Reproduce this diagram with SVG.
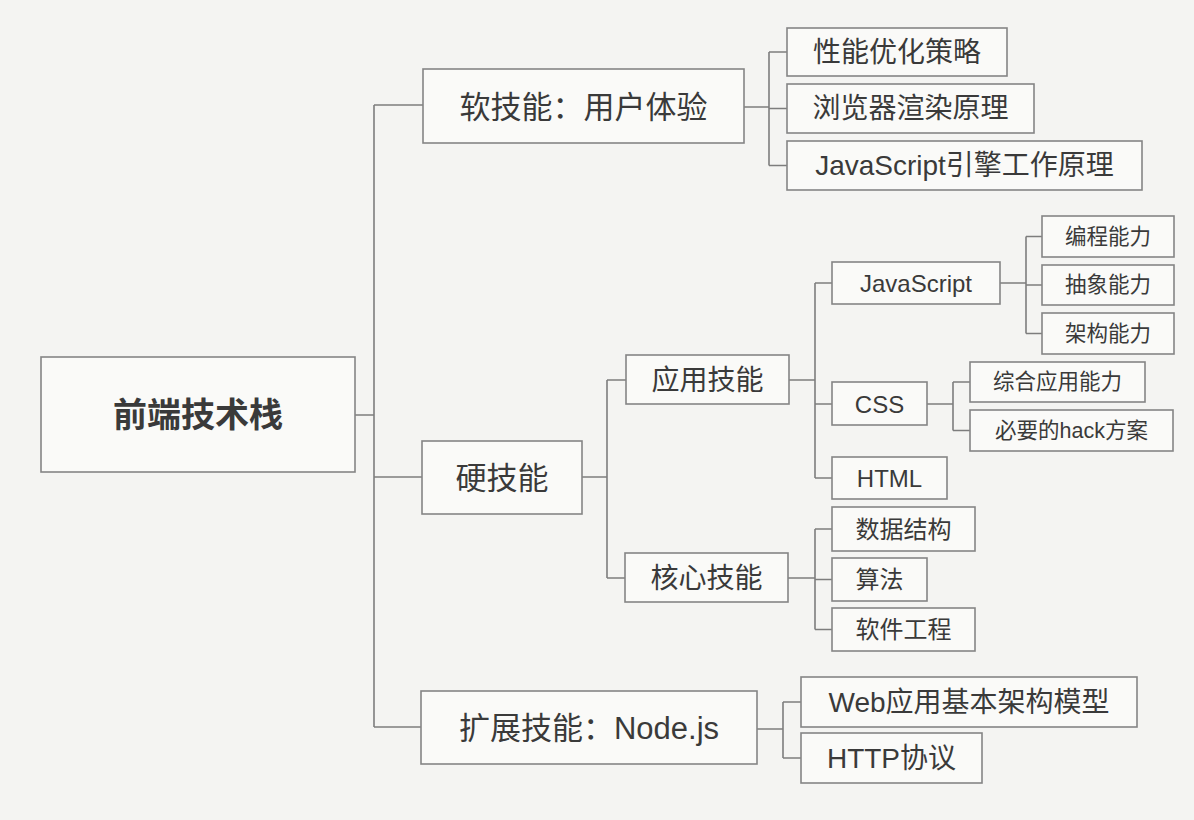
<svg xmlns="http://www.w3.org/2000/svg" width="1194" height="820" viewBox="0 0 1194 820">
<style>
.bx{fill:#fafaf8;stroke:#858585;stroke-width:1.6}
.t{font-family:"Liberation Sans","Noto Sans CJK SC",sans-serif;fill:#3a3a3a;text-anchor:middle;dominant-baseline:central}
.l0{font-size:34px;font-weight:bold}
.l1{font-size:31px}
.l2{font-size:28px}
.l3{font-size:24px}
.l4{font-size:21.5px}
#connectors path{fill:none;stroke:#7d7d7d;stroke-width:1.6}
</style>
<rect x="0" y="0" width="1194" height="820" fill="#f4f4f2"/>
<g id="connectors">
<path d="M355,415H374M374,105V727M374,105H423M374,477H422M374,727H421"/>
<path d="M744,107H769M769,52V165.5M769,52H787M769,108.5H787M769,165.5H787"/>
<path d="M582,477H607M607,380V578M607,380H626M607,578H625"/>
<path d="M789,380H815M815,283V478M815,283H832M815,404H832M815,478H832"/>
<path d="M1000,283H1026M1026,236.5V333.5M1026,236.5H1042M1026,285H1042M1026,333.5H1042"/>
<path d="M927,404H953M953,382V430.5M953,382H970M953,430.5H970"/>
<path d="M788,578H815M815,529V629.5M815,529H832M815,579.5H832M815,629.5H832"/>
<path d="M757,729H783M783,702V758M783,702H801M783,758H801"/>
</g>
<g id="root"><rect class="bx" x="41" y="357" width="314" height="115"/><text class="t l0" x="198" y="415">前端技术栈</text></g>
<g id="soft"><rect class="bx" x="423" y="69" width="321" height="74"/><text class="t l1" x="583.5" y="107">软技能：用户体验</text></g>
<g id="hard"><rect class="bx" x="422" y="441" width="160" height="73"/><text class="t l1" x="502" y="478">硬技能</text></g>
<g id="ext"><rect class="bx" x="421" y="691" width="336" height="73"/><text class="t l1" x="589" y="728">扩展技能：Node.js</text></g>
<g id="perf"><rect class="bx" x="787" y="28" width="220" height="48"/><text class="t l2" x="897" y="52">性能优化策略</text></g>
<g id="render"><rect class="bx" x="787" y="84" width="247" height="49"/><text class="t l2" x="910.5" y="108.5">浏览器渲染原理</text></g>
<g id="engine"><rect class="bx" x="787" y="141" width="355" height="49"/><text class="t l2" x="964.5" y="165.5">JavaScript引擎工作原理</text></g>
<g id="app"><rect class="bx" x="626" y="355" width="163" height="49"/><text class="t l2" x="707.5" y="380">应用技能</text></g>
<g id="core"><rect class="bx" x="625" y="553" width="163" height="49"/><text class="t l2" x="706.5" y="578">核心技能</text></g>
<g id="js"><rect class="bx" x="832" y="262" width="168" height="42"/><text class="t l3" x="916" y="283">JavaScript</text></g>
<g id="css"><rect class="bx" x="832" y="382" width="95" height="43"/><text class="t l3" x="879.5" y="404">CSS</text></g>
<g id="html"><rect class="bx" x="832" y="457" width="115" height="42"/><text class="t l3" x="889.5" y="478">HTML</text></g>
<g id="prog"><rect class="bx" x="1042" y="216" width="132" height="41"/><text class="t l4" x="1108" y="236.5">编程能力</text></g>
<g id="abs"><rect class="bx" x="1042" y="265" width="132" height="40"/><text class="t l4" x="1108" y="285">抽象能力</text></g>
<g id="arch"><rect class="bx" x="1042" y="313" width="132" height="41"/><text class="t l4" x="1108" y="333.5">架构能力</text></g>
<g id="cssapp"><rect class="bx" x="970" y="362" width="175" height="40"/><text class="t l4" x="1057.5" y="382">综合应用能力</text></g>
<g id="hack"><rect class="bx" x="970" y="410" width="203" height="41"/><text class="t l4" x="1071.5" y="430.5">必要的hack方案</text></g>
<g id="ds"><rect class="bx" x="832" y="507" width="143" height="44"/><text class="t l3" x="903.5" y="529">数据结构</text></g>
<g id="algo"><rect class="bx" x="832" y="558" width="95" height="43"/><text class="t l3" x="879.5" y="579.5">算法</text></g>
<g id="se"><rect class="bx" x="832" y="608" width="143" height="43"/><text class="t l3" x="903.5" y="629.5">软件工程</text></g>
<g id="web"><rect class="bx" x="801" y="677" width="336" height="50"/><text class="t l2" x="969" y="702">Web应用基本架构模型</text></g>
<g id="http"><rect class="bx" x="801" y="733" width="181" height="50"/><text class="t l2" x="891.5" y="758">HTTP协议</text></g>
</svg>
